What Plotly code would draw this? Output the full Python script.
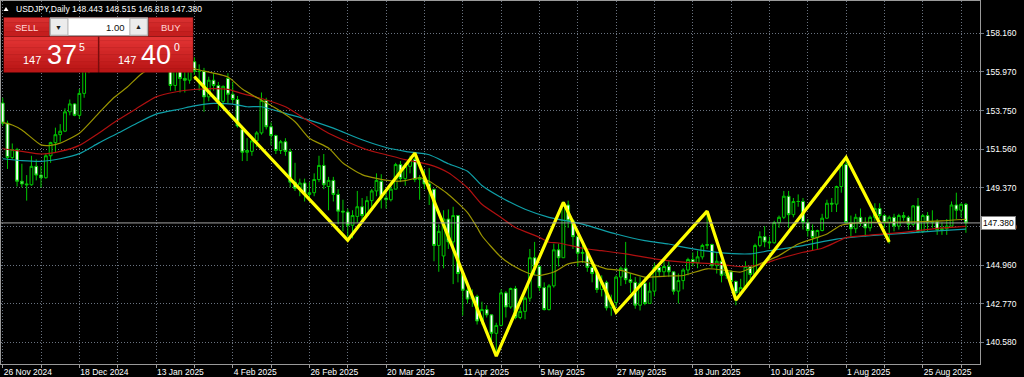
import plotly.graph_objects as go
import pandas as pd

# ---------------- data ----------------
dates = [d for d in pd.bdate_range("2024-11-26", "2025-09-05")
         if d.strftime("%m-%d") not in ("12-25", "01-01")]

open_ = [154.20,153.05,151.10,151.55,149.75,149.60,149.55,150.60,150.10,149.95,
         151.20,151.95,152.40,152.60,153.70,154.15,153.50,154.75,157.40,156.40,
         157.20,157.15,157.85,157.90,156.90,157.20,157.45,157.30,157.60,158.05,
         158.30,158.00,157.70,157.50,157.95,156.50,155.20,156.30,155.60,155.50,
         156.55,156.00,156.00,154.55,155.50,155.20,154.30,155.60,154.70,154.40,
         152.70,151.40,151.45,152.05,152.50,154.35,152.85,152.35,151.50,152.00,
         151.45,149.70,149.35,149.65,149.00,149.10,149.85,150.65,149.45,149.80,
         149.00,148.05,148.00,147.25,147.75,148.30,147.80,148.65,149.20,149.75,
         148.80,148.70,149.30,150.70,149.90,150.60,151.00,149.85,149.95,149.60,
         149.30,146.10,145.50,147.60,146.30,147.80,144.50,143.55,143.05,143.20,
         141.80,142.45,142.15,141.10,141.55,143.40,142.60,143.65,142.00,142.35,
         143.10,145.40,144.90,143.70,142.45,143.80,145.85,145.40,148.40,147.50,
         146.60,145.65,145.70,144.85,144.50,143.60,144.00,142.55,142.85,144.30,
         144.80,144.15,144.00,142.70,143.95,142.80,143.50,144.85,144.60,144.90,
         144.60,143.50,144.10,144.70,145.30,145.10,145.45,146.10,146.15,144.95,
         145.20,144.40,144.60,144.05,143.40,143.70,144.90,144.45,146.10,146.60,
         146.30,146.25,147.40,147.70,148.90,147.85,148.60,148.60,147.40,146.95,
         146.55,146.95,147.65,148.50,148.45,149.45,150.70,147.40,147.05,147.70,
         147.35,147.10,147.70,148.20,147.80,147.40,147.70,147.20,147.80,147.70,
         147.30,148.35,146.90,147.80,147.40,147.45,147.00,147.05,147.20,148.40,
         148.10,148.443]

high = [154.50,153.20,151.90,151.65,150.75,150.10,151.20,151.00,150.60,151.35,
        152.00,152.80,153.00,153.90,154.40,154.20,155.00,157.90,157.90,157.40,
        157.40,158.05,158.10,158.00,157.80,157.80,157.60,158.40,158.40,158.55,
        158.40,158.90,158.00,158.10,158.20,156.60,156.40,156.40,156.20,156.80,
        156.80,156.40,156.20,155.70,155.90,155.40,155.20,155.90,155.40,154.60,
        152.90,152.20,152.30,152.60,154.80,154.50,153.10,152.40,152.10,152.20,
        151.60,150.80,149.90,149.90,149.70,150.20,151.20,151.30,150.00,150.00,
        149.30,148.70,148.20,148.10,149.20,148.80,148.90,149.30,150.20,150.15,
        149.30,149.50,150.80,150.90,150.80,151.20,151.10,150.10,150.40,150.50,
        149.30,147.30,148.10,148.15,148.30,147.80,144.60,143.90,143.60,143.30,
        142.90,142.70,142.20,141.70,143.60,143.50,143.70,143.80,142.60,143.20,
        145.90,146.30,145.00,144.00,143.90,146.20,146.20,148.60,148.65,147.60,
        146.70,146.30,145.80,145.20,144.70,144.40,144.10,143.30,144.40,144.90,
        146.30,144.50,144.30,144.30,144.30,144.00,145.10,145.00,145.30,145.20,
        144.60,144.50,144.80,145.40,145.70,145.80,146.20,148.00,146.20,145.70,
        145.30,144.90,144.70,144.10,144.20,145.20,144.90,146.20,146.90,147.20,
        146.60,147.50,147.80,149.20,149.20,148.80,149.00,148.80,147.60,147.30,
        147.00,147.90,148.70,148.80,149.50,150.80,150.90,147.80,147.90,148.20,
        147.70,147.80,148.50,148.50,147.90,147.80,147.90,147.90,148.00,147.80,
        148.40,148.80,147.90,148.00,148.10,147.60,147.40,147.60,148.60,149.10,
        148.50,148.515]

low = [152.90,150.45,151.00,149.45,149.40,148.65,149.50,149.80,149.40,149.90,
       150.80,151.40,152.00,152.55,153.50,153.45,153.30,154.50,155.90,156.10,
       156.90,157.10,157.40,156.40,156.70,156.90,156.90,157.00,157.30,157.80,
       157.60,157.20,157.00,157.30,156.20,154.90,154.90,154.80,154.80,155.30,
       155.80,154.90,153.70,154.30,154.90,153.80,154.00,154.20,154.20,152.80,
       150.90,150.90,151.20,151.70,152.40,152.70,151.80,151.30,151.30,151.20,
       149.40,149.20,148.90,148.60,148.80,148.90,149.70,149.30,148.10,148.60,
       147.30,146.90,146.60,146.50,147.40,147.40,147.70,148.30,148.90,148.20,
       148.20,148.60,149.30,149.70,149.50,150.20,149.70,148.70,149.30,148.40,
       145.20,144.60,144.80,145.90,143.90,144.00,142.10,142.80,142.60,141.60,
       141.60,142.00,140.60,139.90,141.50,142.00,142.50,141.90,141.90,141.90,
       142.90,144.40,143.50,142.40,142.40,143.70,144.90,145.40,147.10,145.90,
       144.90,145.10,144.60,144.00,143.40,143.20,142.40,142.10,142.60,143.80,
       143.90,143.40,142.50,142.40,142.70,142.80,143.20,144.30,144.30,144.30,
       143.30,142.80,143.60,144.40,144.90,144.80,145.30,145.90,144.80,144.50,
       144.00,144.20,143.80,142.70,143.30,143.60,144.20,144.40,146.00,146.00,
       145.90,146.20,147.10,147.60,147.10,147.70,148.30,147.00,146.60,145.80,
       145.90,146.90,147.60,148.00,148.00,149.10,147.30,146.60,146.80,147.20,
       146.60,146.90,147.50,147.60,147.10,146.20,146.90,147.00,147.50,147.00,
       147.20,146.80,146.80,146.90,147.10,146.70,146.70,146.70,147.20,147.60,
       147.70,146.818]

close = [153.05,151.10,151.55,149.75,149.60,149.55,150.60,150.10,149.95,151.20,
         151.95,152.40,152.60,153.70,154.15,153.50,154.75,157.40,156.40,157.20,
         157.15,157.85,157.90,156.90,157.20,157.45,157.30,157.60,158.05,158.30,
         158.00,157.70,157.50,157.95,156.50,155.20,156.30,155.60,155.50,156.55,
         156.00,156.00,154.55,155.50,155.20,154.30,155.15,154.70,154.40,152.90,
         151.40,151.50,152.05,152.50,154.35,152.85,152.35,151.50,152.00,151.45,
         149.70,149.35,149.65,149.00,149.10,149.85,150.65,149.55,149.80,149.00,
         148.05,148.00,147.25,147.80,148.30,147.80,148.65,149.20,149.80,148.80,
         148.70,149.30,150.70,149.90,150.60,151.00,149.85,149.95,149.60,149.30,
         146.10,146.90,147.60,146.30,147.80,144.50,143.55,143.05,143.20,141.80,
         142.45,142.15,141.10,141.55,143.40,142.60,143.65,142.00,142.35,143.10,
         145.40,144.90,143.70,142.45,143.80,145.85,145.40,148.40,147.50,146.60,
         145.65,145.70,144.85,144.50,143.60,144.00,142.55,142.85,144.30,144.80,
         144.15,144.00,142.70,143.95,142.80,143.50,144.85,144.60,144.90,144.60,
         143.50,144.10,144.70,145.30,145.10,145.45,146.10,146.15,144.95,145.20,
         144.40,144.60,144.05,143.40,143.70,144.90,144.45,146.10,146.60,146.30,
         146.25,147.40,147.70,148.90,147.85,148.60,148.60,147.40,146.95,146.55,
         146.95,147.65,148.50,148.45,149.45,150.70,147.40,147.05,147.70,147.35,
         147.10,147.70,148.20,147.80,147.40,147.70,147.20,147.80,147.70,147.30,
         148.35,146.90,147.80,147.40,147.45,147.00,147.05,147.20,148.40,148.10,
         148.44,147.380]

# moving averages (bar number -> price)
ma_fast_bar = [0,2,4,8,10,12,16,20,23,26,29,33,37,40,47,50,54,57,61,64,68,71,75,78,82,84,87,89,93,97,
               99,100,104,107,110,112,115,118,121,123,126,129,134,139,142,147,151,154,158,162,166,172,175,
               180,185,191,196,201]
ma_fast_val = [153.10,152.95,152.67,151.82,151.79,151.92,152.48,153.61,154.46,155.11,155.87,156.45,156.50,
               156.15,155.68,155.00,154.36,153.90,153.14,152.20,151.64,150.79,150.13,149.91,149.75,149.79,
               149.95,149.75,149.00,147.97,147.12,146.65,145.43,144.87,144.49,144.39,144.59,145.05,145.18,
               145.05,144.77,144.68,144.30,144.36,144.39,144.77,144.68,144.59,145.05,145.52,146.18,146.75,
               147.25,147.41,147.41,147.44,147.50,147.59]
ma_mid_bar = [0,4,8,12,16,20,24,28,32,36,40,44,47,50,54,59,64,68,72,76,80,84,89,93,97,100,104,107,112,114,
              116,121,125,130,136,142,149,154,158,162,167,171,174,176,181,188,195,201]
ma_mid_val = [151.60,151.45,151.30,151.45,151.79,152.48,153.23,153.90,154.55,154.83,154.97,155.02,154.98,
              154.74,154.46,153.99,153.14,152.48,151.98,151.54,151.26,150.98,150.70,150.24,149.38,148.44,
              147.69,147.12,146.56,146.28,146.24,145.94,145.80,145.62,145.34,145.15,145.05,144.90,145.00,
              145.34,145.71,145.94,146.30,146.54,146.69,146.84,147.07,147.18]
ma_slow_bar = [0,4,8,12,16,20,24,28,32,37,40,44,48,51,54,59,64,69,75,80,84,89,93,97,100,104,109,114,121,
               128,134,139,142,149,156,160,167,174,181,188,195,201]
ma_slow_val = [151.03,150.92,150.88,151.03,151.32,151.92,152.48,153.05,153.57,153.86,154.04,154.18,154.14,
               153.99,153.99,153.61,153.23,152.77,152.11,151.67,151.45,151.26,150.75,150.32,149.51,148.83,
               148.16,147.70,147.31,146.75,146.37,146.18,146.00,145.71,145.62,145.80,146.09,146.46,146.65,
               146.79,146.93,147.03]

# drawn zigzag (bar number -> price)
zig_bar = [40, 72, 86, 103, 117, 128, 147, 153, 176, 185]
zig_val = [155.70, 146.40, 151.35, 139.80, 148.55, 142.30, 148.05, 143.00, 151.10, 146.30]

y_ticks = [140.58, 142.77, 144.96, 147.17, 149.37, 151.56, 153.75, 155.97, 158.16]
symbol = "USDJPY,Daily"

# ---------------- geometry ----------------
W, H = 1024, 377
ML, MR, MT, MB = 0, 44, 0, 11
PW, PH = W - ML - MR, H - MT - MB
FONT = "Liberation Sans, Arial, sans-serif"

def px2x(px):
    return px / PW

def py2y(py):
    return 1 - py / PH

xi = list(range(len(dates)))
GREEN = "#00c800"

fig = go.Figure()
fig.add_trace(go.Candlestick(
    x=xi, open=open_, high=high, low=low, close=close,
    increasing=dict(line=dict(color=GREEN, width=1), fillcolor="#000000"),
    decreasing=dict(line=dict(color=GREEN, width=1), fillcolor="#ffffff"),
    whiskerwidth=0, showlegend=False, hoverinfo="skip"))

for bars, vals, col in [(ma_slow_bar, ma_slow_val, "#0fa0a8"),
                        (ma_mid_bar, ma_mid_val, "#b01010"),
                        (ma_fast_bar, ma_fast_val, "#9a9400")]:
    fig.add_trace(go.Scatter(x=bars, y=vals, mode="lines",
                             line=dict(color=col, width=1.2, shape="spline", smoothing=0.6),
                             showlegend=False, hoverinfo="skip"))

fig.add_trace(go.Scatter(x=zig_bar, y=zig_val, mode="lines",
                         line=dict(color="#ffff00", width=3.2),
                         showlegend=False, hoverinfo="skip"))

tick_idx = list(range(0, len(dates), 8))
tick_txt = [f"{dates[i].day} {dates[i].strftime('%b %Y')}" if i % 16 == 0 else "" for i in tick_idx]

GRID = "#6a7380"
AX = "#9a9a9a"
fig.update_xaxes(range=[-0.354, 203.94], tickvals=tick_idx, ticktext=tick_txt,
                 showgrid=True, gridcolor=GRID, griddash="1px,2px", gridwidth=1,
                 ticks="outside", ticklen=3, tickcolor=AX,
                 ticklabelposition="outside right",
                 tickfont=dict(family=FONT, size=8.5, color="#ffffff"),
                 showline=True, linecolor=AX, linewidth=1, mirror=True,
                 zeroline=False, rangeslider=dict(visible=False), fixedrange=True)
fig.update_yaxes(range=[139.355, 160.005], side="right", tickvals=y_ticks,
                 ticktext=[f"{v:.3f}" for v in y_ticks],
                 showgrid=True, gridcolor=GRID, griddash="1px,2px", gridwidth=1,
                 ticks="outside", ticklen=3, tickcolor=GRID,
                 tickfont=dict(family=FONT, size=8.5, color="#ffffff"),
                 showline=True, linecolor=AX, linewidth=1, mirror=True,
                 zeroline=False, fixedrange=True)

shapes = []
annotations = []

# bid line
shapes.append(dict(type="line", xref="paper", yref="y", x0=0, x1=1, y0=close[-1], y1=close[-1],
                   line=dict(color="#a0a0a0", width=1), layer="above"))

def rect(x0, y0, x1, y1, fill, line=None, lw=0):
    shapes.append(dict(type="rect", xref="paper", yref="paper",
                       x0=px2x(x0), x1=px2x(x1), y0=py2y(y1), y1=py2y(y0),
                       fillcolor=fill, line=dict(width=lw, color=line or fill), layer="above"))

def grad(x0, y0, x1, y1, top, bot, n=8):
    h = (y1 - y0) / n
    for k in range(n):
        t = k / (n - 1)
        c = tuple(int(top[j] + (bot[j] - top[j]) * t) for j in range(3))
        rect(x0, y0 + k * h, x1, y0 + (k + 1) * h + 0.3, "rgb(%d,%d,%d)" % c)

def text(x, y, s, size, color="#ffffff", xa="left", ya="middle"):
    annotations.append(dict(xref="paper", yref="paper", x=px2x(x), y=py2y(y), text=s,
                            showarrow=False, xanchor=xa, yanchor=ya,
                            font=dict(family=FONT, size=size, color=color)))

# header
shapes.append(dict(type="path", xref="paper", yref="paper", layer="above",
                   path=f"M {px2x(2.5)},{py2y(10)} L {px2x(7.5)},{py2y(10)} L {px2x(5)},{py2y(6)} Z",
                   fillcolor="#ffffff", line=dict(width=0)))
ohlc_txt = f"{open_[-1]:.3f} {high[-1]:.3f} {low[-1]:.3f} {close[-1]:.3f}"
text(13, 8.5, f"{symbol} {ohlc_txt}", 8.5)

# one-click trading panel
RED_T, RED_B = (226, 52, 52), (186, 22, 22)
rect(2.5, 16.5, 192.5, 72, "#7a0c0c")
grad(3, 17, 48, 35, (214, 46, 46), (196, 30, 30), 4)
grad(148, 17, 192, 35, (214, 46, 46), (196, 30, 30), 4)
rect(49, 17, 147, 35, "#ffffff", "#9a9a9a", 1)
rect(49.5, 17.5, 67, 34.5, "#ececec", "#b0b0b0", 1)
rect(129, 17.5, 146.5, 34.5, "#ececec", "#b0b0b0", 1)
grad(3, 36, 97, 71.5, RED_T, RED_B, 10)
grad(98.5, 36, 192, 71.5, RED_T, RED_B, 10)
text(25.5, 27, "SELL", 9.5, "#ffd6d6", "center")
text(170, 27, "BUY", 9.5, "#ffd6d6", "center")
text(58, 26.5, "▼", 7, "#202020", "center")
text(137.5, 26, "▲", 7, "#202020", "center")
text(126.5, 26.5, "1.00", 9.5, "#101010", "right")

bid = close[-1]
ask = round(bid + 0.020, 3)

def price_parts(p):
    s = f"{p:.3f}"
    return s[:3], s[4:6], s[6]

b1, b2, b3 = price_parts(bid - 0.005)
a1, a2, a3 = price_parts(ask)
text(42, 59.5, b1, 11, "#ffffff", "right")
text(44.5, 54, b2, 27, "#ffffff", "left")
text(76.5, 46.5, b3, 10.5, "#ffffff", "left")
text(137, 59.5, a1, 11, "#ffffff", "right")
text(138.5, 54, a2, 27, "#ffffff", "left")
text(171.5, 46.5, a3, 10.5, "#ffffff", "left")

# current price label on the price scale
annotations.append(dict(xref="paper", yref="y", x=px2x(981), y=bid, text=f"{bid:.3f}",
                        showarrow=False, xanchor="left", yanchor="middle",
                        bgcolor="#ffffff", bordercolor="#808080", borderwidth=1, borderpad=1,
                        font=dict(family=FONT, size=8.5, color="#000000")))

fig.update_layout(width=W, height=H, margin=dict(l=ML, r=MR, t=MT, b=MB, pad=0),
                  paper_bgcolor="#000000", plot_bgcolor="#000000",
                  showlegend=False, hovermode=False, boxgap=0.42, boxgroupgap=0,
                  shapes=shapes, annotations=annotations)

fig.write_html("out.html")
